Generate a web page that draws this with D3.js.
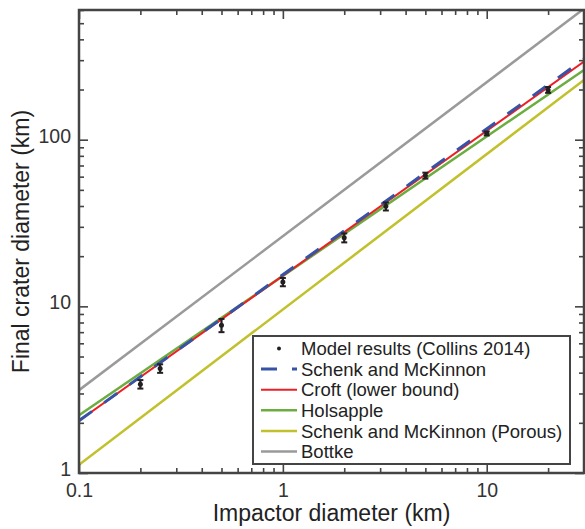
<!DOCTYPE html>
<html>
<head>
<meta charset="utf-8">
<script src="https://cdn.jsdelivr.net/npm/d3@7"></script>
<style>
  html, body { margin: 0; padding: 0; background: #fff; }
  svg { display: block; font-family: "Liberation Sans", Arial, Helvetica, sans-serif; }
</style>
</head>
<body>
<div id="chart"></div>
<script>
// Model results (Collins 2014)
const impactorD = [0.2, 0.25, 0.5, 1, 2, 3.2, 5, 10, 20];
const craterD   = [3.41, 4.24, 7.7, 14.0, 25.8, 39.8, 60.9, 109, 199];
const craterErr = [0.2, 0.25, 0.7, 0.8, 1.6, 2.2, 2.5, 3, 8];

// Scaling laws: straight lines in log-log, read at both ends of the x range
const lineX = [0.1, 30];
const schenkY   = [2.06, 304];
const croftY    = [2.06, 294];
const holsappleY = [2.22, 262];
const porousY   = [1.12, 228];
const bottkeY   = [3.14, 611];

const legendLabels = [
    "Model results (Collins 2014)",
    "Schenk and McKinnon",
    "Croft (lower bound)",
    "Holsapple",
    "Schenk and McKinnon (Porous)",
    "Bottke"
];

const xMajor = [0.1, 1, 10];
const yMajor = [1, 10, 100];

const width = 585, height = 529;
const margin = { top: 10, right: 1, bottom: 56, left: 79 };

const svg = d3.select("#chart").append("svg")
    .attr("width", width)
    .attr("height", height);

const x = d3.scaleLog()
    .domain([0.1, 30])
    .range([margin.left, width - margin.right]);

const y = d3.scaleLog()
    .domain([1, 600])
    .range([height - margin.bottom, margin.top]);

const x0 = x.range()[0], x1 = x.range()[1];
const y0 = y.range()[0], y1 = y.range()[1];

svg.append("clipPath").attr("id", "plot-clip")
    .append("rect")
    .attr("x", x0).attr("y", y1)
    .attr("width", x1 - x0).attr("height", y0 - y1);

// series drawn bottom to top, blue dashed last
const series = [
    { vals: bottkeY, color: "#9a9a9a", w: 2.5, dash: null },
    { vals: porousY, color: "#c0c12c", w: 2.5, dash: null },
    { vals: holsappleY, color: "#6cad3f", w: 2.5, dash: null },
    { vals: croftY, color: "#ec1f26", w: 2, dash: null },
    { vals: schenkY, color: "#3753a6", w: 3, dash: "16,15" }
];

const line = d3.line()
    .x(d => x(d[0]))
    .y(d => y(d[1]));

const lines = svg.append("g").attr("clip-path", "url(#plot-clip)");
series.forEach(s => {
    lines.append("path")
        .datum(lineX.map((v, i) => [v, s.vals[i]]))
        .attr("d", line)
        .attr("fill", "none")
        .attr("stroke", s.color)
        .attr("stroke-width", s.w)
        .attr("stroke-dasharray", s.dash);
});

// data points with error bars
const pts = svg.append("g").selectAll("g")
    .data(impactorD.map((v, i) => ({ x: v, y: craterD[i], e: craterErr[i] })))
    .join("g")
    .attr("stroke", "#231f20")
    .attr("fill", "#231f20");

pts.append("line")
    .attr("x1", d => x(d.x)).attr("x2", d => x(d.x))
    .attr("y1", d => y(d.y - d.e)).attr("y2", d => y(d.y + d.e))
    .attr("stroke-width", 2.2);
pts.append("line")
    .attr("x1", d => x(d.x) - 3).attr("x2", d => x(d.x) + 3)
    .attr("y1", d => y(d.y - d.e)).attr("y2", d => y(d.y - d.e))
    .attr("stroke-width", 2);
pts.append("line")
    .attr("x1", d => x(d.x) - 3).attr("x2", d => x(d.x) + 3)
    .attr("y1", d => y(d.y + d.e)).attr("y2", d => y(d.y + d.e))
    .attr("stroke-width", 2);
pts.append("circle")
    .attr("cx", d => x(d.x)).attr("cy", d => y(d.y))
    .attr("r", 2.5)
    .attr("stroke", "none");

// axes: ticks inside on all four sides
const axisColor = "#444";
const xMinor = x.ticks().filter(t => !xMajor.some(m => Math.abs(m - t) < 1e-9));
const yMinor = y.ticks().filter(t => !yMajor.some(m => Math.abs(m - t) < 1e-9));

function drawAxis(axisFn, scale, major, minor, transform, showLabels, pad) {
    const gMinor = svg.append("g").attr("transform", transform)
        .call(axisFn(scale).tickValues(minor).tickSize(-5).tickFormat(""));
    const gMajor = svg.append("g").attr("transform", transform)
        .call(axisFn(scale).tickValues(major).tickSize(-9)
            .tickPadding(pad || 0)
            .tickFormat(showLabels ? d => String(d) : ""));
    [gMinor, gMajor].forEach(g => {
        g.select(".domain").remove();
        g.selectAll(".tick line").attr("stroke", axisColor).attr("stroke-width", 1.6);
    });
    gMajor.selectAll("text")
        .attr("fill", "#333")
        .style("font-size", "19.5px");
    return gMajor;
}

drawAxis(d3.axisBottom, x, xMajor, xMinor, `translate(0,${y0})`, true, 10);
drawAxis(d3.axisTop, x, xMajor, xMinor, `translate(0,${y1})`, false);
const gLeft = drawAxis(d3.axisLeft, y, yMajor, yMinor, `translate(${x0},0)`, true);
gLeft.selectAll("text").attr("x", -8).attr("dy", "0.12em");
drawAxis(d3.axisRight, y, yMajor, yMinor, `translate(${x1},0)`, false);

// frame
svg.append("rect")
    .attr("x", x0).attr("y", y1)
    .attr("width", x1 - x0).attr("height", y0 - y1)
    .attr("fill", "none")
    .attr("stroke", axisColor)
    .attr("stroke-width", 2.5);

// axis titles
svg.append("text")
    .attr("x", (x0 + x1) / 2)
    .attr("y", 521)
    .attr("text-anchor", "middle")
    .attr("fill", "#222")
    .style("font-size", "23px")
    .text("Impactor diameter (km)");

svg.append("text")
    .attr("transform", `translate(29,${(y0 + y1) / 2}) rotate(-90)`)
    .attr("text-anchor", "middle")
    .attr("fill", "#222")
    .style("font-size", "23px")
    .text("Final crater diameter (km)");

// legend
const legend = svg.append("g").attr("transform", "translate(253,336)");
legend.append("rect")
    .attr("width", 317).attr("height", 128)
    .attr("fill", "#fff")
    .attr("stroke", axisColor)
    .attr("stroke-width", 2);

const legendStyles = [
    null,
    series[4], series[3], series[2], series[1], series[0]
];

legendLabels.forEach((label, i) => {
    const cy = 12.5 + i * 20.6;
    const s = legendStyles[i];
    if (s) {
        legend.append("line")
            .attr("x1", 8).attr("x2", 44)
            .attr("y1", cy).attr("y2", cy)
            .attr("stroke", s.color)
            .attr("stroke-width", s.w)
            .attr("stroke-dasharray", s.dash);
    } else {
        legend.append("circle")
            .attr("cx", 26).attr("cy", cy)
            .attr("r", 2)
            .attr("fill", "#231f20");
    }
    legend.append("text")
        .attr("x", 48)
        .attr("y", cy)
        .attr("dy", "0.36em")
        .attr("fill", "#222")
        .style("font-size", "18.5px")
        .text(label);
});
</script>
</body>
</html>
